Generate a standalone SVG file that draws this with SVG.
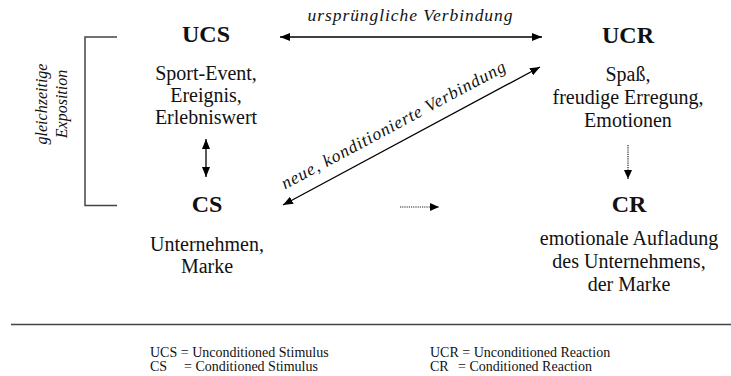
<svg xmlns="http://www.w3.org/2000/svg" width="731" height="376" viewBox="0 0 731 376">
<style>
  .head { font-family: "Liberation Serif", "Times New Roman", serif; font-size: 24px; font-weight: bold; fill: #111; text-anchor: middle; }
  .body { font-family: "Liberation Serif", "Times New Roman", serif; font-size: 20px; fill: #111; text-anchor: middle; }
  .ital { font-family: "Liberation Serif", "Times New Roman", serif; font-size: 17.5px; font-style: italic; fill: #111; text-anchor: middle; }
  .side { font-family: "Liberation Serif", "Times New Roman", serif; font-size: 16px; font-style: italic; fill: #111; text-anchor: middle; }
  .leg { font-family: "Liberation Serif", "Times New Roman", serif; font-size: 14px; fill: #111; }
  .solid { stroke: #000; stroke-width: 1.3; fill: none; }
  .dot { stroke: #222; stroke-width: 1.2; stroke-dasharray: 1.2 1; fill: none; }
  .rule { stroke: #444; stroke-width: 1.5; fill: none; }
</style>
<defs>
  <marker id="ah" viewBox="0 0 10 8" refX="10" refY="4" markerWidth="10" markerHeight="8" markerUnits="userSpaceOnUse" orient="auto-start-reverse">
    <path d="M0,0 L10,4 L0,8 z" fill="#000"/>
  </marker>
  <marker id="ahs" viewBox="0 0 9 8" refX="9" refY="4" markerWidth="9" markerHeight="8" markerUnits="userSpaceOnUse" orient="auto">
    <path d="M0,0 L9,4 L0,8 z" fill="#000"/>
  </marker>
</defs>

<g id="bracket">
  <path class="rule" d="M117,37 H85 V205.5 H117" stroke-width="1.2"/>
  <g transform="translate(47,104) rotate(-90)">
    <text class="side" x="0" y="0">gleichzeitige</text>
  </g>
  <g transform="translate(67,104) rotate(-90)">
    <text class="side" x="0" y="0">Exposition</text>
  </g>
</g>

<g id="node-ucs">
  <text class="head" x="206" y="42">UCS</text>
  <text class="body" x="206" y="80">Sport-Event,</text>
  <text class="body" x="206" y="102">Ereignis,</text>
  <text class="body" x="206" y="124">Erlebniswert</text>
</g>

<g id="node-ucr">
  <text class="head" x="628" y="43">UCR</text>
  <text class="body" x="628" y="81">Spaß,</text>
  <text class="body" x="628" y="104">freudige Erregung,</text>
  <text class="body" x="628" y="127">Emotionen</text>
</g>

<g id="node-cs">
  <text class="head" x="207" y="212">CS</text>
  <text class="body" x="207" y="251">Unternehmen,</text>
  <text class="body" x="207" y="273">Marke</text>
</g>

<g id="node-cr">
  <text class="head" x="629" y="212">CR</text>
  <text class="body" x="629" y="245">emotionale Aufladung</text>
  <text class="body" x="629" y="268">des Unternehmens,</text>
  <text class="body" x="629" y="291">der Marke</text>
</g>

<g id="connectors">
  <line class="solid" x1="280" y1="37" x2="542" y2="37" marker-start="url(#ah)" marker-end="url(#ah)"/>
  <text class="ital" x="410" y="21" textLength="205" lengthAdjust="spacing">ursprüngliche Verbindung</text>
  <line class="solid" x1="206" y1="139" x2="206" y2="177" marker-start="url(#ah)" marker-end="url(#ah)"/>
  <line class="solid" x1="283" y1="205" x2="540" y2="67" marker-start="url(#ah)" marker-end="url(#ah)"/>
  <g transform="translate(396,130) rotate(-28.2)">
    <text class="ital" x="0" y="0" textLength="252" lengthAdjust="spacing">neue, konditionierte Verbindung</text>
  </g>
  <line class="dot" x1="400" y1="207" x2="439" y2="207" marker-end="url(#ahs)"/>
  <line class="dot" x1="628" y1="145" x2="628" y2="179" marker-end="url(#ahs)"/>
</g>

<g id="legend">
  <line class="rule" x1="11" y1="324.5" x2="731" y2="324.5"/>
  <text class="leg" x="150" y="356.5">UCS = Unconditioned Stimulus</text>
  <text class="leg" x="150" y="371">CS</text>
  <text class="leg" x="184" y="371">= Conditioned Stimulus</text>
  <text class="leg" x="430" y="356.5">UCR = Unconditioned Reaction</text>
  <text class="leg" x="430" y="371">CR</text>
  <text class="leg" x="458" y="371">= Conditioned Reaction</text>
</g>
</svg>
